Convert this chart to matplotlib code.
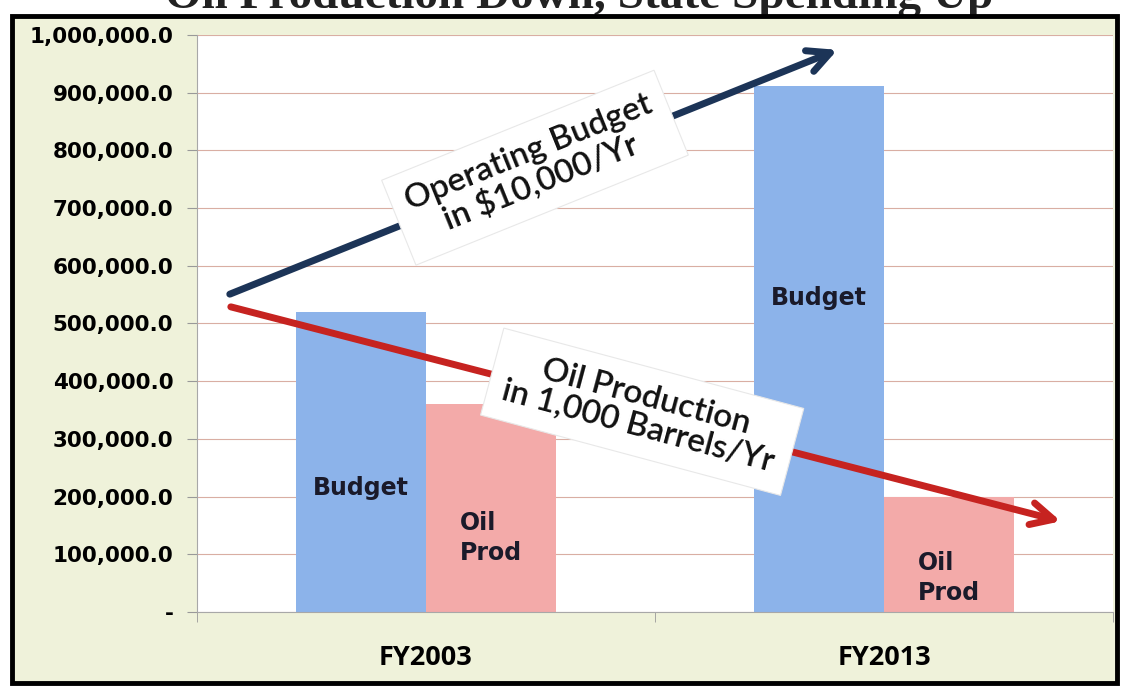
import matplotlib.pyplot as plt
from matplotlib.patches import Rectangle
import numpy as np

# data
years = ['FY2003', 'FY2013']
budget = [520000, 912000]
oil_prod = [360000, 200000]
yticks = [0, 100000, 200000, 300000, 400000, 500000, 600000, 700000, 800000, 900000, 1000000]
ytick_labels = ['-', '100,000.0', '200,000.0', '300,000.0', '400,000.0', '500,000.0',
                '600,000.0', '700,000.0', '800,000.0', '900,000.0', '1,000,000.0']

bg = '#eff2da'
blue = '#8cb3ea'
pink = '#f3aaa9'

fig = plt.figure(figsize=(11.23, 6.87), dpi=100)
fig.patch.set_facecolor('white')

# pale panel with the heavy black frame
frame = Rectangle((0.011, 0.006), 0.984, 0.970, transform=fig.transFigure,
                  facecolor=bg, edgecolor='black', lw=3.5, zorder=-1)
fig.add_artist(frame)

# title is cut off at the top of the picture
fig.text(0.516, 0.988, 'Oil Production Down, State Spending Up', ha='center', va='baseline',
         fontsize=34, fontweight='bold', family='Liberation Serif', color='#222222', zorder=-2)

ax = fig.add_axes([0.1754, 0.1092, 0.8157, 0.8399])
ax.set_zorder(1)
ax.set_facecolor('white')

x = np.arange(len(years))
w = 0.284
ax.bar(x - w / 2, budget, width=w, color=blue, zorder=2)
ax.bar(x + w / 2, oil_prod, width=w, color=pink, zorder=2)

ax.set_xlim(-0.5, 1.5)
ax.set_ylim(0, 1000000)
ax.set_yticks(yticks)
ax.set_yticklabels(ytick_labels, fontsize=15.5, fontweight='bold', family='DejaVu Sans')
ax.yaxis.grid(True, color='#d9aea3', lw=0.8, zorder=1)
ax.tick_params(axis='y', length=7, color='#999999', pad=10)

ax.set_xticks(x)
ax.set_xticklabels(years, fontsize=19.5, fontweight='bold', family='Open Sans')
ax.set_xticks([-0.5, 0.5, 1.5], minor=True)
ax.tick_params(axis='x', which='major', length=0, pad=24)
ax.tick_params(axis='x', which='minor', length=7, color='#999999')

for s in ['top', 'right']:
    ax.spines[s].set_visible(False)
for s in ['left', 'bottom']:
    ax.spines[s].set_color('#a8a8a8')

# labels inside the bars
lab = dict(fontsize=17, fontweight='bold', family='DejaVu Sans', color='#1a1a2a',
           ha='center', va='center', zorder=3)
ax.text(0 - w / 2, 215000, 'Budget', **lab)
ax.text(1 - w / 2, 544000, 'Budget', **lab)
ax.text(0 + w / 2, 128000, 'Oil\nProd', linespacing=1.3, multialignment='left', **lab)
ax.text(1 + w / 2, 59000, 'Oil\nProd', linespacing=1.3, multialignment='left', **lab)

# trend arrows
ax.annotate('', xy=(0.702, 0.976), xytext=(0.033, 0.549), xycoords='axes fraction',
            arrowprops=dict(arrowstyle='->,head_length=1.6,head_width=0.8',
                            color='#1c3457', lw=5), zorder=4)
ax.annotate('', xy=(0.946, 0.156), xytext=(0.034, 0.530), xycoords='axes fraction',
            arrowprops=dict(arrowstyle='->,head_length=1.6,head_width=0.8',
                            color='#c62320', lw=5), zorder=4)

box = dict(boxstyle='square,pad=0.45', facecolor='white', edgecolor='#e8e8e8', lw=0.8)
ax.text(0.369, 0.770, 'Operating Budget\nin $10,000/Yr', transform=ax.transAxes,
        rotation=22, rotation_mode='anchor', ha='center', va='center', fontsize=24,
        fontweight='semibold', family='Lato', color='#111111', bbox=box, zorder=5,
        linespacing=1.0)
ax.text(0.486, 0.347, 'Oil Production\nin 1,000 Barrels/Yr', transform=ax.transAxes,
        rotation=-15, rotation_mode='anchor', ha='center', va='center', fontsize=24,
        fontweight='semibold', family='Lato', color='#111111', bbox=box, zorder=5,
        linespacing=1.0)

plt.savefig('out.png', dpi=100)
